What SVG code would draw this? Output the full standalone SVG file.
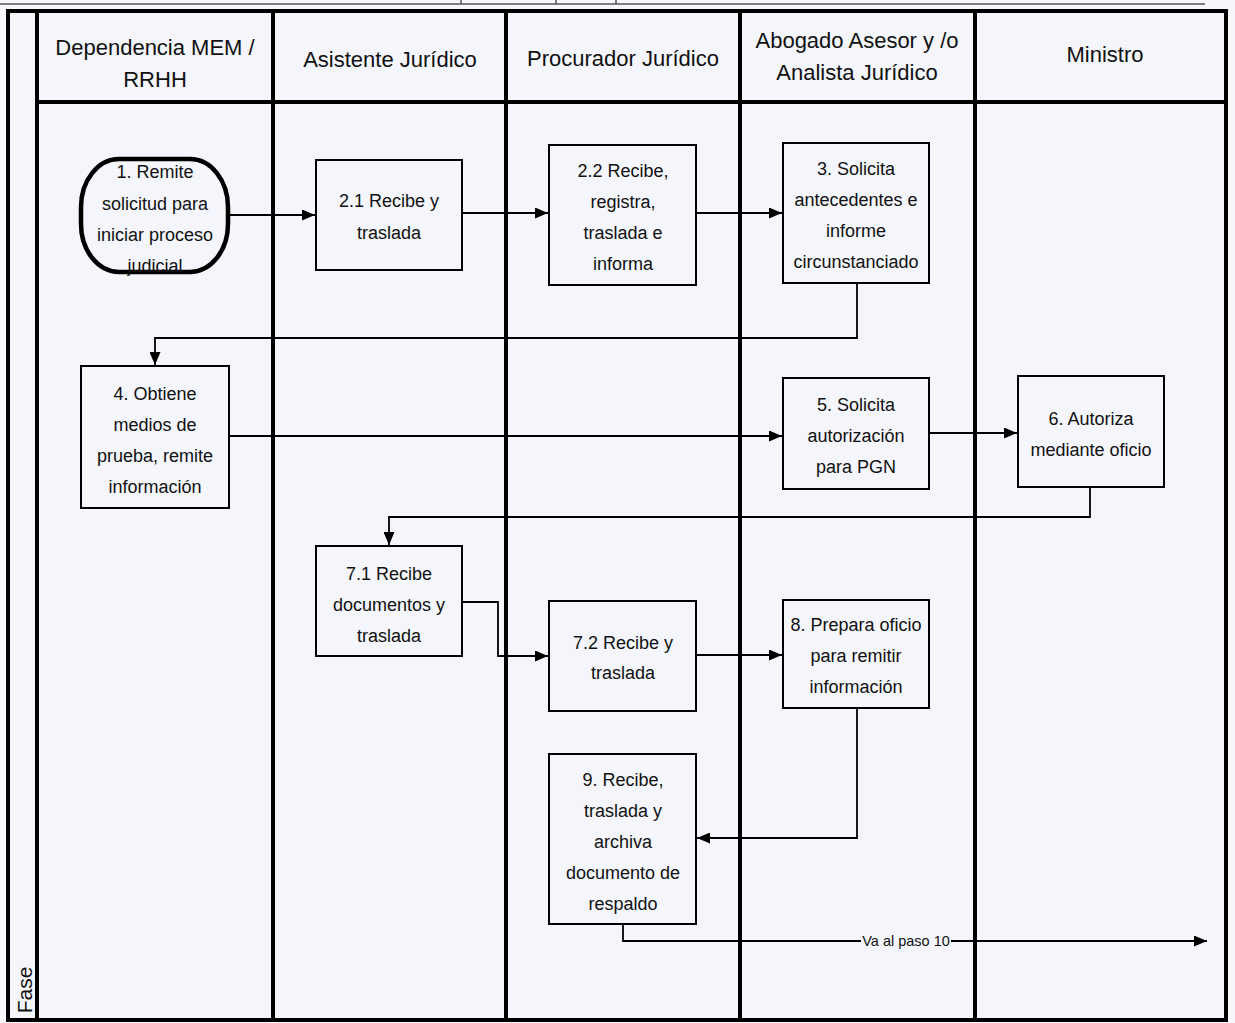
<svg xmlns="http://www.w3.org/2000/svg" width="1235" height="1023" viewBox="0 0 1235 1023">
<style>
.bg{fill:#f4f6fb}
.lane{stroke:#000;stroke-width:4;fill:none}
.box{fill:#f4f6fb;stroke:#000;stroke-width:2}
.term{fill:#f4f6fb;stroke:#000;stroke-width:4.5}
.hd{font-family:"Liberation Sans",Arial,sans-serif;font-size:22px;fill:#111;text-anchor:middle}
.t{font-family:"Liberation Sans",Arial,sans-serif;font-size:18px;fill:#111;text-anchor:middle}
.lbl{font-family:"Liberation Sans",Arial,sans-serif;font-size:14.5px;fill:#111;text-anchor:middle}
.c{stroke:#000;stroke-width:1.8;fill:none}
</style>
<defs>
<marker id="ah" viewBox="0 0 13 11" refX="13" refY="5.5" markerWidth="13" markerHeight="11" markerUnits="userSpaceOnUse" orient="auto">
<path d="M0,0 L13,5.5 L0,11 Z" fill="#000"/>
</marker>
</defs>
<rect x="0" y="0" width="1235" height="1023" fill="#f7f8fc"/>
<g id="topstrip">
<line x1="0" y1="4" x2="1205" y2="4" stroke="#555" stroke-width="1.5"/>
<line x1="461" y1="0" x2="461" y2="4" stroke="#555" stroke-width="1.5"/>
<line x1="556" y1="0" x2="556" y2="4" stroke="#555" stroke-width="1.5"/>
<line x1="616" y1="0" x2="616" y2="4" stroke="#555" stroke-width="1.5"/>
</g>
<g id="frame">
<rect class="bg" x="8" y="11" width="1218" height="1009"/>
<rect class="lane" x="8" y="11" width="1218" height="1009"/>
<line class="lane" x1="37" y1="11" x2="37" y2="1020"/>
<line class="lane" x1="273" y1="11" x2="273" y2="1020"/>
<line class="lane" x1="506" y1="11" x2="506" y2="1020"/>
<line class="lane" x1="740" y1="11" x2="740" y2="1020"/>
<line class="lane" x1="975" y1="11" x2="975" y2="1020"/>
<line class="lane" x1="37" y1="102" x2="1226" y2="102"/>
<text transform="translate(32,990) rotate(-90)" font-family="Liberation Sans,Arial,sans-serif" font-size="21" fill="#111" text-anchor="middle">Fase</text>
</g>
<g id="headers">
<text class="hd" x="155" y="55">Dependencia MEM /</text>
<text class="hd" x="155" y="87">RRHH</text>
<text class="hd" x="390" y="67">Asistente Jurídico</text>
<text class="hd" x="623" y="66">Procurador Jurídico</text>
<text class="hd" x="857" y="48">Abogado Asesor y /o</text>
<text class="hd" x="857" y="80">Analista Jurídico</text>
<text class="hd" x="1105" y="62">Ministro</text>
</g>
<g id="connectors">
<line class="c" x1="228" y1="215" x2="315" y2="215" marker-end="url(#ah)"/>
<line class="c" x1="462" y1="213" x2="548" y2="213" marker-end="url(#ah)"/>
<line class="c" x1="696" y1="213" x2="782" y2="213" marker-end="url(#ah)"/>
<polyline class="c" points="857,283 857,338 155,338 155,365" marker-end="url(#ah)"/>
<line class="c" x1="229" y1="436" x2="782" y2="436" marker-end="url(#ah)"/>
<line class="c" x1="929" y1="433" x2="1017" y2="433" marker-end="url(#ah)"/>
<polyline class="c" points="1090,487 1090,517 389,517 389,545" marker-end="url(#ah)"/>
<polyline class="c" points="462,602 498,602 498,656 548,656" marker-end="url(#ah)"/>
<line class="c" x1="696" y1="655" x2="782" y2="655" marker-end="url(#ah)"/>
<polyline class="c" points="857,708 857,838 697,838" marker-end="url(#ah)"/>
<polyline class="c" points="623,924 623,941 1207,941" marker-end="url(#ah)"/>
<rect x="861" y="932" width="90" height="17" fill="#f4f6fb"/>
<text class="lbl" x="906" y="946">Va al paso 10</text>
</g>
<g id="n1">
<rect class="term" x="81" y="159" width="147" height="113" rx="38" ry="48"/>
<text class="t" x="155" y="178">1. Remite</text>
<text class="t" x="155" y="210">solicitud para</text>
<text class="t" x="155" y="241">iniciar proceso</text>
<text class="t" x="155" y="272">judicial</text>
</g>
<g id="n2_1">
<rect class="box" x="316" y="160" width="146" height="110"/>
<text class="t" x="389" y="207">2.1 Recibe y</text>
<text class="t" x="389" y="239">traslada</text>
</g>
<g id="n2_2">
<rect class="box" x="549" y="145" width="147" height="140"/>
<text class="t" x="623" y="177">2.2 Recibe,</text>
<text class="t" x="623" y="208">registra,</text>
<text class="t" x="623" y="239">traslada e</text>
<text class="t" x="623" y="270">informa</text>
</g>
<g id="n3">
<rect class="box" x="783" y="143" width="146" height="140"/>
<text class="t" x="856" y="175">3. Solicita</text>
<text class="t" x="856" y="206">antecedentes e</text>
<text class="t" x="856" y="237">informe</text>
<text class="t" x="856" y="268">circunstanciado</text>
</g>
<g id="n4">
<rect class="box" x="81" y="366" width="148" height="142"/>
<text class="t" x="155" y="400">4. Obtiene</text>
<text class="t" x="155" y="431">medios de</text>
<text class="t" x="155" y="462">prueba, remite</text>
<text class="t" x="155" y="493">información</text>
</g>
<g id="n5">
<rect class="box" x="783" y="378" width="146" height="111"/>
<text class="t" x="856" y="411">5. Solicita</text>
<text class="t" x="856" y="442">autorización</text>
<text class="t" x="856" y="473">para PGN</text>
</g>
<g id="n6">
<rect class="box" x="1018" y="376" width="146" height="111"/>
<text class="t" x="1091" y="425">6. Autoriza</text>
<text class="t" x="1091" y="456">mediante oficio</text>
</g>
<g id="n7_1">
<rect class="box" x="316" y="546" width="146" height="110"/>
<text class="t" x="389" y="580">7.1 Recibe</text>
<text class="t" x="389" y="611">documentos y</text>
<text class="t" x="389" y="642">traslada</text>
</g>
<g id="n7_2">
<rect class="box" x="549" y="601" width="147" height="110"/>
<text class="t" x="623" y="649">7.2 Recibe y</text>
<text class="t" x="623" y="679">traslada</text>
</g>
<g id="n8">
<rect class="box" x="783" y="600" width="146" height="108"/>
<text class="t" x="856" y="631">8. Prepara oficio</text>
<text class="t" x="856" y="662">para remitir</text>
<text class="t" x="856" y="693">información</text>
</g>
<g id="n9">
<rect class="box" x="549" y="754" width="147" height="170"/>
<text class="t" x="623" y="786">9. Recibe,</text>
<text class="t" x="623" y="817">traslada y</text>
<text class="t" x="623" y="848">archiva</text>
<text class="t" x="623" y="879">documento de</text>
<text class="t" x="623" y="910">respaldo</text>
</g>
</svg>
